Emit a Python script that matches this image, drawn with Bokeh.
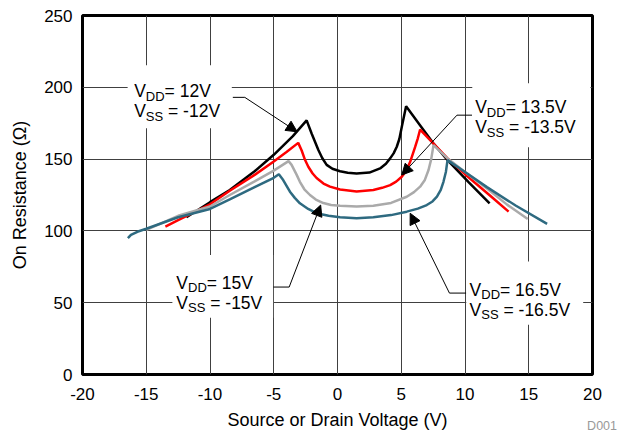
from bokeh.plotting import figure
from bokeh.models import Range1d, Label, Arrow, NormalHead, BoxAnnotation, FixedTicker, Div
from bokeh.layouts import column
from bokeh.embed import file_html
from bokeh.resources import INLINE

# ---------------- data ----------------
x_ticks = [-20, -15, -10, -5, 0, 5, 10, 15, 20]
y_ticks = [0, 50, 100, 150, 200, 250]

v12_x = [-11.85, -10, -8.45, -6.5, -5, -3.5, -2.42, -2.03, -1.5, -1.2, -0.85, -0.4, 0.2, 0.8, 1.5, 2.5,
         3.34, 3.8, 4.13, 4.4, 4.65, 4.85, 5.04, 5.38, 6.5, 7.53, 8.63, 10.3, 11.93]
v12_y = [109.5, 120, 128.5, 141.5, 153, 166, 177, 167.8, 156.3, 150.8, 146, 143.3, 141.5, 140.5, 140, 140.6,
         143.5, 146.8, 150.5, 154, 158.6, 164, 172.4, 186.8, 173.3, 160.9, 149.3, 133.8, 119.2]

v135_x = [-13.5, -12.5, -10, -8.45, -6.5, -5, -4, -3.08, -2.81, -2.55, -2.29, -1.95, -1.64, -1.1, -0.59, 0.2,
          1.5, 2.81, 3.5, 4.13, 4.6, 5.04, 5.4, 5.7, 6.09, 6.3, 6.48, 7.4, 8.63, 10, 11.98, 13.42]
v135_y = [103, 107.5, 118.5, 128, 139, 148.4, 155, 161.3, 156, 149.5, 144.7, 140, 136.8, 133, 130.8, 128.8,
          127.5, 128.5, 130, 131.9, 134.3, 137.7, 142, 148.1, 158.5, 164.5, 170.6, 162, 150.5, 139.5, 124.5, 113.4]

v15_x = [-15, -12.5, -10, -8.45, -6.5, -5, -3.84, -3.6, -3.2, -2.95, -2.6, -2.16, -1.7, -1.11, -0.5, 0.2,
         1.5, 2.81, 4.2, 5.43, 6.0, 6.48, 6.85, 7.14, 7.35, 7.53, 8.63, 10, 11.72, 13.3, 14.92]
v15_y = [100.7, 110.5, 117, 125, 134.5, 142, 148.6, 146, 139, 134.2, 129, 125, 121.8, 119.4, 118, 117.5,
         117, 117.5, 119.5, 123.8, 127, 130.8, 135.5, 142.4, 150, 159.7, 150.5, 141, 129.5, 118.3, 108.3]

v165_x = [-16.44, -16.2, -15.7, -15, -12.5, -10, -8.45, -6.5, -5, -4.6, -4.26, -3.73, -3.35, -2.95, -2.3,
          -1.64, -0.7, 0.2, 1.5, 2.81, 4.2, 5.43, 6.3, 7.0, 7.45, 7.8, 8.1, 8.31, 8.5, 8.63,
          10, 11.72, 14, 16.44]
v165_y = [94.9, 97.2, 99.4, 101.5, 109.5, 115.3, 122, 130.5, 137, 139.4, 135.4, 127.3, 123, 119.2, 115.3,
          112.3, 110.5, 109.5, 108.8, 109.5, 111, 113.4, 115.5, 118, 120.5, 123.8, 128.5, 134.2, 141, 149.3,
          141, 130.5, 117.5, 104.9]

series_colors = ["#000000", "#FF0000", "#AAAAAA", "#2E6A80"]

FONT = "Liberation Sans"

p = figure(width=618, height=432, x_range=Range1d(-20, 20), y_range=Range1d(0, 250),
           output_backend="svg", toolbar_location=None,
           min_border_left=82, min_border_right=26, min_border_top=15, min_border_bottom=57)

p.background_fill_color = "white"
p.border_fill_color = "white"
p.outline_line_color = "black"
p.outline_line_width = 3

p.xaxis.ticker = FixedTicker(ticks=x_ticks)
p.yaxis.ticker = FixedTicker(ticks=y_ticks)
p.xaxis.major_label_overrides = {t: str(t) for t in x_ticks}
p.yaxis.major_label_overrides = {t: str(t) for t in y_ticks}
for ax in (p.xaxis, p.yaxis):
    ax.axis_line_color = None
    ax.major_tick_line_color = None
    ax.minor_tick_line_color = None
    ax.major_tick_out = 0
    ax.major_tick_in = 0
    ax.major_label_text_font = FONT
    ax.major_label_text_font_size = "17px"
    ax.major_label_text_color = "black"
    ax.axis_label_text_font = FONT
    ax.axis_label_text_font_size = "18px"
    ax.axis_label_text_font_style = "normal"
    ax.axis_label_text_color = "black"

p.xaxis.axis_label = "Source or Drain Voltage (V)"
p.yaxis.axis_label = "On Resistance (\u03a9)"
p.xaxis.major_label_standoff = 13
p.xaxis.axis_label_standoff = 7
p.yaxis.major_label_standoff = 10
p.yaxis.axis_label_standoff = 11

p.grid.grid_line_color = "#404040"
p.grid.grid_line_width = 1

# curves
for xs, ys, c in [(v12_x, v12_y, series_colors[0]), (v135_x, v135_y, series_colors[1]),
                  (v15_x, v15_y, series_colors[2]), (v165_x, v165_y, series_colors[3])]:
    p.line(xs, ys, line_color=c, line_width=2.5)

# annotation boxes (white, interrupt gridlines)
boxes = [(-16.46, -8.29, 171.5, 215.3), (10.57, 19.84, 158.3, 202.8),
         (-12.95, -5.05, 39.6, 83.3), (10.1, 19.27, 34.7, 78.7)]
for l, r, b, t in boxes:
    p.add_layout(BoxAnnotation(left=l, right=r, bottom=b, top=t, fill_color="white",
                               fill_alpha=1, line_color=None, level="annotation"))

# labels with subscripts
MAIN = 17.5
SUB = 13
W_V = 0.667 * MAIN
W_DD = 2 * 0.722 * SUB
W_SS = 2 * 0.667 * SUB
W_SP = 0.278 * MAIN

labels = [(-15.95, 197.2, "= 12V", "= -12V"),
          (10.8, 186.1, "= 13.5V", "= -13.5V"),
          (-12.64, 63.9, "= 15V", "= -15V"),
          (10.36, 59.0, "= 16.5V", "= -16.5V")]

def add_text(x, y, txt, xo, yo, size):
    p.add_layout(Label(x=x, y=y, x_offset=xo, y_offset=yo, text=txt, text_font=FONT,
                       text_font_size=f"{size}px", text_color="black",
                       text_baseline="alphabetic", text_align="left"))

for x, y, r1, r2 in labels:
    add_text(x, y, "V", 0, 0, MAIN)
    add_text(x, y, "DD", W_V, -5, SUB)
    add_text(x, y, r1, W_V + W_DD, 0, MAIN)
    add_text(x, y, "V", 0, -20, MAIN)
    add_text(x, y, "SS", W_V, -25, SUB)
    add_text(x, y, r2, W_V + W_SS + W_SP, -20, MAIN)

# leader lines with arrows
arrows = [((-8.21, 193), (-7.27, 193), (-3.16, 169)),
          ((10.55, 180.6), (9.37, 180.6), (5.04, 138.9)),
          ((-5.05, 60.9), (-3.79, 60.9), (-1.32, 118)),
          ((10.1, 56.7), (8.78, 56.7), (5.70, 112.3))]
for s, bnd, tip in arrows:
    p.line([s[0], bnd[0]], [s[1], bnd[1]], line_color="black", line_width=1)
    p.add_layout(Arrow(x_start=bnd[0], y_start=bnd[1], x_end=tip[0], y_end=tip[1],
                       line_color="black", line_width=1,
                       end=NormalHead(size=11, fill_color="black", line_color="black")))

note = Div(text="D001", width=40, height=14, margin=(-13, 0, 0, 577),
           styles={"font-family": FONT, "font-size": "12.5px", "color": "#999999",
                   "text-align": "right", "line-height": "14px"})

layout = column(p, note, spacing=0)

open("out.html", "w").write(file_html(layout, INLINE))
